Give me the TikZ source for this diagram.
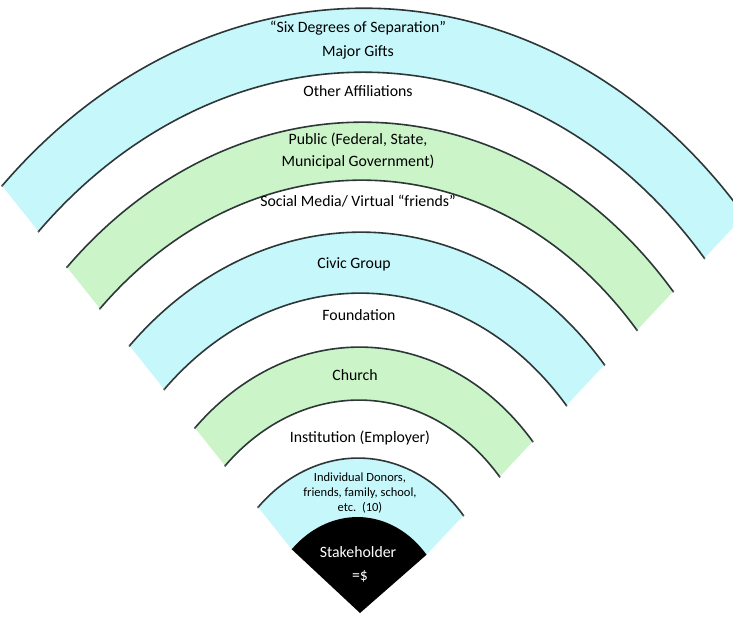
\documentclass[tikz,border=0pt]{standalone}
\usepackage{fontspec}
\setmainfont{Carlito}
\definecolor{bandblue}{RGB}{198,247,251}
\definecolor{bandgreen}{RGB}{203,245,200}
\definecolor{arcline}{RGB}{45,55,55}
\def\angA{43.7}
\def\angB{136.3}
\newcommand\bandfill[3]{%
  \fill[#3] (\angA:#1) arc[start angle=\angA, end angle=\angB, radius=#1]
    -- (\angB:#2) arc[start angle=\angB, end angle=\angA, radius=#2] -- cycle;}
\newcommand\bandarc[1]{%
  \draw[arcstyle] (\angA:#1) arc[start angle=\angA, end angle=\angB, radius=#1];
  \fill[dotstyle] (\angA:#1) circle[radius=1.3pt];
  \fill[dotstyle] (\angB:#1) circle[radius=1.3pt];}
\tikzset{
  arcstyle/.style={draw=arcline, line width=1.6pt},
  dotstyle/.style={fill=arcline!80},
  lbl/.style={font=\fontsize{15.8}{19}\selectfont, text=black, inner sep=0pt, anchor=base},
  small/.style={font=\fontsize{12.5}{15}\selectfont, text=black, inner sep=0pt, anchor=base},
  wlbl/.style={font=\fontsize{15.8}{19}\selectfont, text=white, inner sep=0pt, anchor=base}
}
\begin{document}
\begin{tikzpicture}[x=1pt,y=1pt]
\useasboundingbox (0,0) rectangle (733,625);
\fill[white] (0,0) rectangle (733,625);
\clip (0,0) rectangle (733,625);
\coordinate (apex) at (360,12);
\begin{scope}[shift={(356,-5)}, rotate=-2.3, xscale=0.826]
  \bandfill{622pt}{558pt}{bandblue}
  \bandfill{508pt}{450pt}{bandgreen}
  \bandfill{398pt}{337pt}{bandblue}
  \bandfill{283pt}{230pt}{bandgreen}
  \bandfill{172pt}{113pt}{bandblue}
  \bandarc{622pt}\bandarc{558pt}
  \bandarc{508pt}\bandarc{450pt}
  \bandarc{398pt}\bandarc{337pt}
  \bandarc{283pt}\bandarc{230pt}
  \bandarc{172pt}
  \fill[black] (\angA:113pt) arc[start angle=\angA, end angle=\angB, radius=113pt] -- (apex) -- cycle;
\end{scope}
\node[lbl] (six) at (358,592) {“Six Degrees of Separation”};
\node[lbl] (major) at (358,568) {Major Gifts};
\node[lbl] (other) at (358,528) {Other Affiliations};
\node[lbl] (public) at (358,480) {Public (Federal, State,};
\node[lbl] (munic) at (358,458) {Municipal Government)};
\node[lbl] (social) at (358,419) {Social Media/ Virtual “friends”};
\node[lbl] (civic) at (354,357) {Civic Group};
\node[lbl] (found) at (359,305) {Foundation};
\node[lbl] (church) at (355,245) {Church};
\node[lbl] (inst) at (360,183) {Institution (Employer)};
\node[small] (don1) at (360,144) {Individual Donors,};
\node[small] (don2) at (360,129) {friends, family, school,};
\node[small] (don3) at (360,114) {etc.~~(10)};
\node[wlbl] (stake) at (358,68) {Stakeholder};
\node[wlbl] (money) at (360,45) {=\$};
\end{tikzpicture}
\end{document}
